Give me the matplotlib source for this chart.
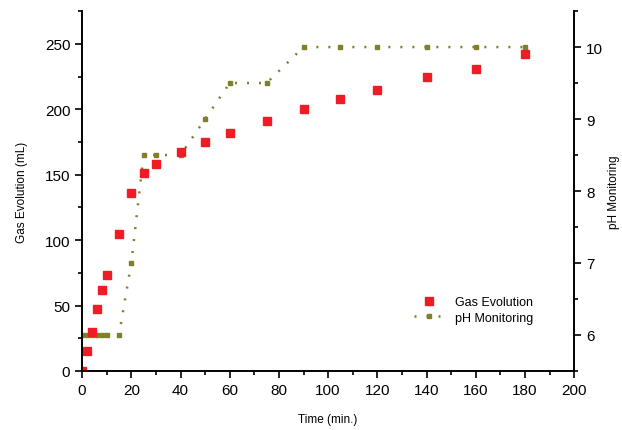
import numpy as np
from matplotlib import pyplot as plt
from matplotlib.ticker import MultipleLocator

plt.rcParams['font.family'] = ['Liberation Sans', 'DejaVu Sans']

# Gas evolution (mL) vs time (min.)
gas_time = [0, 2, 4, 6, 8, 10, 15, 20, 25, 30, 40, 50, 60, 75, 90, 105, 120, 140, 160, 180]
gas_ml = [0, 15, 30, 47, 62, 73, 105, 136, 151, 158, 167, 175, 182, 191, 200, 208, 215, 225, 231, 242]

# pH monitoring vs time (min.)
ph_time = [0, 2, 4, 6, 8, 10, 15, 20, 25, 30, 40, 50, 60, 75, 90, 105, 120, 140, 160, 180]
ph_val = [6, 6, 6, 6, 6, 6, 6, 7, 8.5, 8.5, 8.5, 9, 9.5, 9.5, 10, 10, 10, 10, 10, 10]

red = '#ee1c25'
olive = '#7f7f2c'

fig = plt.figure(figsize=(6.22, 4.31), dpi=100)
ax = fig.add_axes([0.132, 0.137, 0.791, 0.835])
ax2 = ax.twinx()
# gas markers on top of the pH line
ax.set_zorder(ax2.get_zorder() + 1)
ax.patch.set_visible(False)

g, = ax.plot(gas_time, gas_ml, 's', color=red, markersize=6, linestyle='none',
             label='Gas Evolution')
p, = ax2.plot(ph_time, ph_val, color=olive, marker='s', markersize=3.5,
              linewidth=1.8, dashes=(0.8, 4), label='pH Monitoring')

ax.set_xlim(0, 200)
ax.set_ylim(0, 275)
ax2.set_ylim(5.5, 10.5)

ax.xaxis.set_major_locator(MultipleLocator(20))
ax.xaxis.set_minor_locator(MultipleLocator(10))
ax.yaxis.set_major_locator(MultipleLocator(50))
ax.yaxis.set_minor_locator(MultipleLocator(25))
ax2.yaxis.set_major_locator(MultipleLocator(1))
ax2.yaxis.set_minor_locator(MultipleLocator(0.5))

for a in (ax, ax2):
    a.spines['top'].set_visible(False)
    for s in a.spines.values():
        s.set_linewidth(1.2)
    a.tick_params(which='major', direction='out', length=5, width=1.2, labelsize=11)
    a.tick_params(which='minor', direction='out', length=3, width=1.2)

ax.set_xlabel('Time (min.)', fontsize=8.5, labelpad=12)
ax.set_ylabel('Gas Evolution (mL)', fontsize=8.5, labelpad=12)
ax2.set_ylabel('pH Monitoring', fontsize=8.5, labelpad=4)

ax.legend([g, p], ['Gas Evolution', 'pH Monitoring'], loc='lower right',
          bbox_to_anchor=(0.94, 0.1), frameon=False, fontsize=9,
          handlelength=2.5, labelspacing=0.3)

fig.savefig('out.png', dpi=100)
